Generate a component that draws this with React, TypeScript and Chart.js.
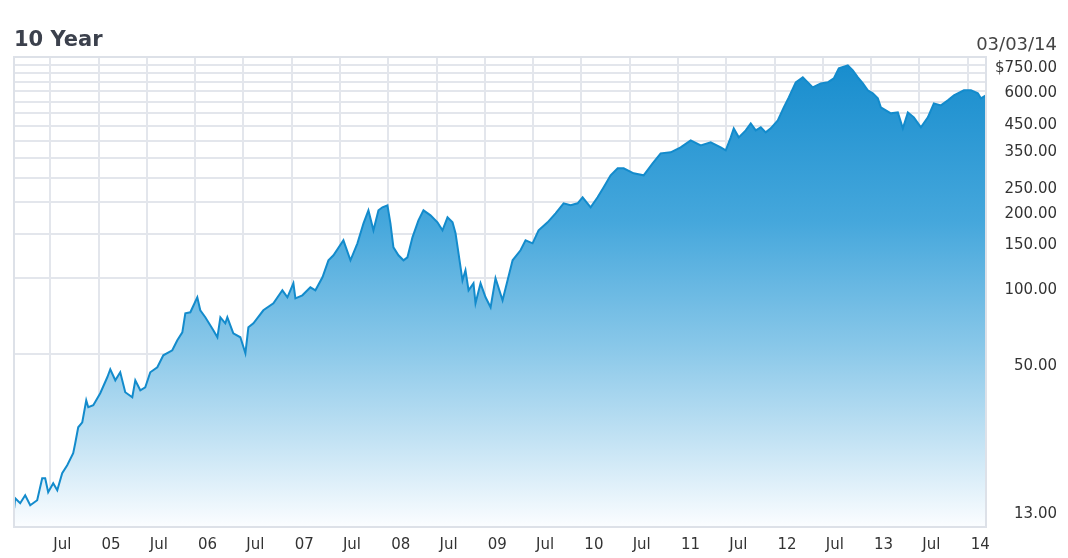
import React, { useEffect, useRef } from 'react';
import { Chart, registerables } from 'chart.js';

Chart.register(...registerables);

const TITLE = '10 Year';
const AS_OF = '03/03/14';

// Dates as fractional years
const years: number[] = [
  2004.127, 2004.137, 2004.189, 2004.241, 2004.293, 2004.365, 2004.417, 2004.448, 2004.479, 2004.531,
  2004.573, 2004.624, 2004.676, 2004.738, 2004.759, 2004.79, 2004.832, 2004.873, 2004.894, 2004.946,
  2005.018, 2005.091, 2005.122, 2005.174, 2005.225, 2005.277, 2005.35, 2005.381, 2005.433, 2005.484,
  2005.536, 2005.609, 2005.671, 2005.764, 2005.816, 2005.868, 2005.899, 2005.951, 2006.023, 2006.054,
  2006.106, 2006.189, 2006.231, 2006.262, 2006.313, 2006.334, 2006.396, 2006.469, 2006.521, 2006.552,
  2006.604, 2006.707, 2006.811, 2006.904, 2006.956, 2007.018, 2007.039, 2007.111, 2007.194, 2007.246,
  2007.319, 2007.381, 2007.433, 2007.536, 2007.609, 2007.681, 2007.744, 2007.795, 2007.847, 2007.899,
  2007.94, 2007.992, 2008.023, 2008.054, 2008.106, 2008.158, 2008.199, 2008.251, 2008.313, 2008.365,
  2008.438, 2008.51, 2008.562, 2008.614, 2008.666, 2008.697, 2008.728, 2008.769, 2008.8, 2008.832,
  2008.883, 2008.904, 2008.956, 2009.008, 2009.06, 2009.111, 2009.184, 2009.236, 2009.288, 2009.37,
  2009.422, 2009.495, 2009.557, 2009.65, 2009.733, 2009.816, 2009.889, 2009.961, 2010.013, 2010.096,
  2010.168, 2010.231, 2010.303, 2010.376, 2010.438, 2010.541, 2010.645, 2010.738, 2010.821, 2010.925,
  2011.028, 2011.132, 2011.236, 2011.339, 2011.443, 2011.495, 2011.547, 2011.578, 2011.63, 2011.702,
  2011.754, 2011.806, 2011.858, 2011.909, 2011.961, 2012.034, 2012.096, 2012.148, 2012.22, 2012.293,
  2012.345, 2012.396, 2012.479, 2012.552, 2012.614, 2012.666, 2012.759, 2012.811, 2012.863, 2012.915,
  2012.966, 2013.018, 2013.07, 2013.101, 2013.153, 2013.205, 2013.277, 2013.329, 2013.381, 2013.443,
  2013.516, 2013.588, 2013.65, 2013.723, 2013.795, 2013.858, 2013.961, 2014.034, 2014.106, 2014.137,
  2014.189,
];

// Closing prices (USD)
const prices: number[] = [
  13.7, 15.01, 14.34, 15.42, 14.08, 14.74, 18.0, 18.0, 15.85, 17.2,
  16.14, 18.84, 20.26, 22.6, 24.76, 28.64, 29.97, 36.61, 34.35, 34.98,
  39.02, 45.14, 48.55, 43.92, 47.24, 39.38, 37.63, 43.92, 40.1, 41.21,
  47.24, 49.44, 55.14, 57.71, 63.21, 67.98, 80.82, 81.56, 93.49, 83.06,
  77.93, 69.23, 64.96, 77.93, 73.79, 77.93, 67.37, 64.96, 56.16, 71.15,
  73.79, 83.06, 88.52, 99.64, 93.49, 106.19, 92.64, 95.2, 102.39, 99.64,
  112.15, 130.92, 137.01, 157.05, 130.92, 152.82, 183.34, 206.37, 172.02, 206.37,
  212.08, 215.98, 183.34, 147.36, 137.01, 130.92, 134.54, 161.4, 188.4, 206.37,
  197.17, 185.01, 172.02, 193.63, 185.01, 167.38, 139.53, 109.13, 119.53, 99.64,
  106.19, 88.52, 106.19, 93.49, 85.35, 111.13, 90.97, 109.13, 130.92, 143.39,
  157.05, 152.82, 172.02, 185.01, 200.8, 219.95, 215.98, 219.95, 232.28, 212.08,
  232.28, 254.41, 283.78, 302.44, 302.44, 288.99, 283.78, 316.52, 346.69, 349.86,
  366.13, 390.22, 372.86, 383.18, 366.13, 356.27, 401.01, 435.23, 401.01, 427.38,
  455.49, 427.38, 439.21, 419.64, 435.23, 468.11, 526.9, 577.1, 661.6, 692.4,
  661.6, 632.16, 655.6, 661.6, 686.1, 751.43, 772.2, 737.9, 692.4, 655.6,
  615.12, 598.6, 571.85, 526.9, 512.7, 498.9, 503.46, 435.23, 503.46, 481.06,
  439.21, 481.06, 546.45, 536.6, 561.54, 587.8, 615.12, 615.12, 598.6, 571.85,
  587.8,
];

// x-axis ticks (half years) and y-axis labels / grid levels
const xTickValues: number[] = [
  2004.5, 2005, 2005.5, 2006, 2006.5, 2007, 2007.5, 2008, 2008.5, 2009, 2009.5,
  2010, 2010.5, 2011, 2011.5, 2012, 2012.5, 2013, 2013.5, 2014,
];
const yLabelValues: number[] = [13, 50, 100, 150, 200, 250, 350, 450, 600, 750];
const yGridValues: number[] = [
  55.556, 111.111, 166.667, 222.222, 277.778, 333.333, 388.889, 444.444, 500,
  555.556, 611.111, 666.667, 722.222, 777.778, 833.333,
];

const X_MIN = 2004.125;
const X_MAX = 2014.19;
const Y_MIN = 11.55;
const Y_MAX = 833.333;

const GRID = '#e3e6ec';
const FRAME = '#dde1e8';
const LINE = '#138bcc';
const TEXT = '#333333';
const FONT = '"DejaVu Sans", Verdana, sans-serif';

const isGridValue = (v: number) => yGridValues.some((g) => Math.abs(g - v) < 1e-6);
const isLabelValue = (v: number) => yLabelValues.some((g) => Math.abs(g - v) < 1e-6);

const framePlugin = {
  id: 'frame',
  afterDatasetsDraw(chart: any) {
    const { ctx, chartArea: a } = chart;
    ctx.save();
    ctx.strokeStyle = FRAME;
    ctx.lineWidth = 2;
    ctx.strokeRect(a.left, a.top, a.right - a.left, a.bottom - a.top);
    ctx.restore();
  },
};

export default function App() {
  const ref = useRef<HTMLCanvasElement | null>(null);

  useEffect(() => {
    const canvas = ref.current;
    if (!canvas) return;
    const chart = new Chart(canvas, {
      type: 'line',
      data: {
        datasets: [
          {
            data: years.map((x, i) => ({ x, y: prices[i] })),
            borderColor: LINE,
            borderWidth: 2,
            pointRadius: 0,
            tension: 0,
            fill: 'start',
            backgroundColor: (ctx: any) => {
              const a = ctx.chart.chartArea;
              if (!a) return 'rgba(0,0,0,0)';
              const g = ctx.chart.ctx.createLinearGradient(0, a.top, 0, a.bottom);
              g.addColorStop(0, '#168ccd');
              g.addColorStop(0.35, '#45a7dc');
              g.addColorStop(0.62, '#8ac8e9');
              g.addColorStop(0.82, '#c4e3f4');
              g.addColorStop(1, '#fbfdff');
              return g;
            },
          },
        ],
      },
      options: {
        responsive: false,
        animation: false,
        events: [],
        layout: { padding: { left: 14, top: 57, right: 11, bottom: 0 } },
        plugins: {
          legend: { display: false },
          tooltip: { enabled: false },
          title: { display: false },
        },
        scales: {
          x: {
            type: 'linear',
            min: X_MIN,
            max: X_MAX,
            afterBuildTicks: (s: any) => {
              s.ticks = xTickValues.map((v) => ({ value: v }));
            },
            afterFit: (s: any) => {
              s.height = 31;
            },
            grid: { color: GRID, lineWidth: 2, drawTicks: false },
            border: { display: false },
            ticks: {
              autoSkip: false,
              maxRotation: 0,
              minRotation: 0,
              align: 'start',
              labelOffset: 3,
              padding: 9,
              color: TEXT,
              font: { family: FONT, size: 15 },
              callback: (v: any) => {
                const n = Number(v);
                if (Math.abs(n - Math.round(n)) > 0.01) return 'Jul';
                return String(Math.round(n) % 100).padStart(2, '0');
              },
            },
          },
          y: {
            type: 'logarithmic',
            position: 'right',
            min: Y_MIN,
            max: Y_MAX,
            afterBuildTicks: (s: any) => {
              const vals = [...yGridValues, ...yLabelValues].sort((a, b) => a - b);
              s.ticks = vals.map((v) => ({ value: v }));
            },
            afterFit: (s: any) => {
              s.width = 71;
            },
            grid: {
              color: (c: any) => (c.tick && isGridValue(c.tick.value) ? GRID : 'rgba(0,0,0,0)'),
              lineWidth: 2,
              drawTicks: false,
            },
            border: { display: false },
            ticks: {
              autoSkip: false,
              padding: 6,
              crossAlign: 'far',
              color: TEXT,
              font: { family: FONT, size: 15 },
              callback: (v: any) => {
                const n = Number(v);
                if (!isLabelValue(n)) return '';
                return (n === 750 ? '$' : '') + n.toFixed(2);
              },
            },
          },
        },
      },
      plugins: [framePlugin],
    } as any);
    return () => chart.destroy();
  }, []);

  return (
    <div
      style={{
        position: 'absolute',
        left: 0,
        top: 0,
        width: 1068,
        height: 558,
        background: '#ffffff',
        overflow: 'hidden',
      }}
    >
      <canvas ref={ref} width={1068} height={558} style={{ position: 'absolute', left: 0, top: 0 }} />
      <div
        style={{
          position: 'absolute',
          left: 14,
          top: 29,
          fontFamily: FONT,
          fontWeight: 'bold',
          fontSize: 21,
          lineHeight: '21px',
          color: '#3c414d',
          whiteSpace: 'nowrap',
        }}
      >
        {TITLE}
      </div>
      <div
        style={{
          position: 'absolute',
          right: 11,
          top: 35,
          fontFamily: FONT,
          fontSize: 18,
          lineHeight: '18px',
          color: '#444444',
          whiteSpace: 'nowrap',
        }}
      >
        {AS_OF}
      </div>
    </div>
  );
}
